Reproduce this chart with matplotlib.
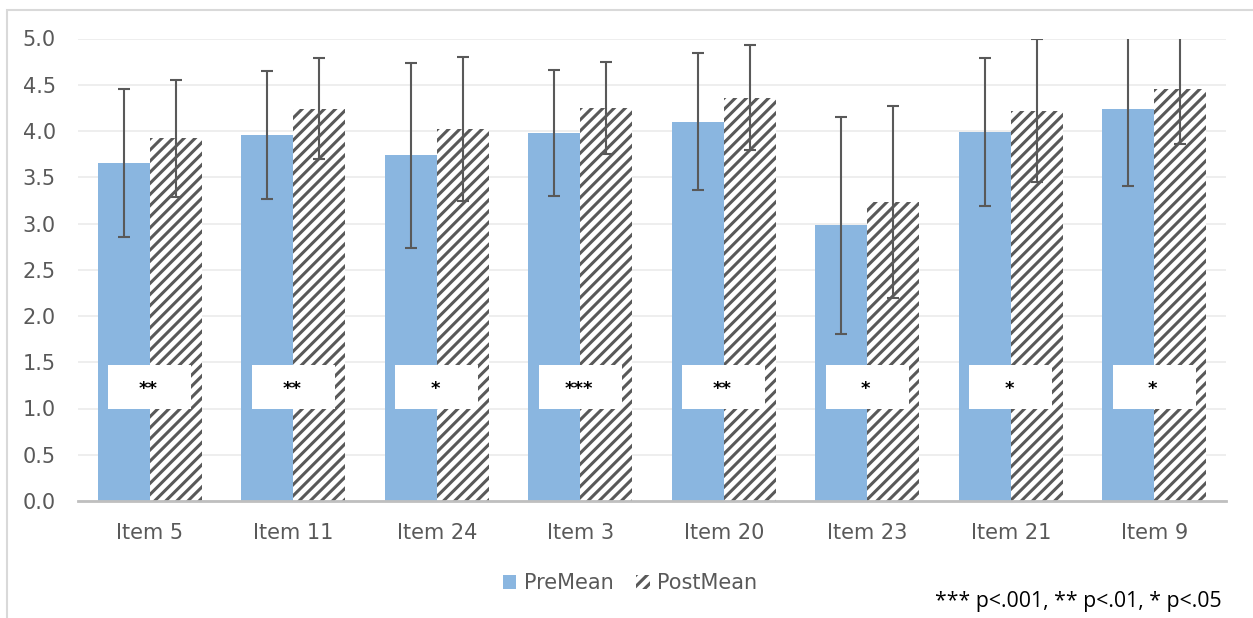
import matplotlib
matplotlib.use("Agg")
import matplotlib.pyplot as plt
from matplotlib.patches import Rectangle
import numpy as np

# Item scores before and after, with standard deviations
items = ["Item 5", "Item 11", "Item 24", "Item 3", "Item 20", "Item 23", "Item 21", "Item 9"]
pre_mean = [3.65, 3.96, 3.74, 3.98, 4.10, 2.98, 3.99, 4.24]
pre_sd = [0.80, 0.69, 1.00, 0.68, 0.74, 1.17, 0.80, 0.84]
post_mean = [3.92, 4.24, 4.02, 4.25, 4.36, 3.23, 4.22, 4.45]
post_sd = [0.63, 0.545, 0.78, 0.50, 0.57, 1.04, 0.77, 0.59]
stars = ["**", "**", "*", "***", "**", "*", "*", "*"]
note = "*** p<.001, ** p<.01, * p<.05"

W, H = 1253, 618
plt.rcParams['hatch.linewidth'] = 2.2

fig = plt.figure(figsize=(W / 100, H / 100), dpi=100)
ax = fig.add_axes([78 / W, 117 / H, (1226 - 78) / W, (501 - 38.5) / H])

x = np.arange(len(items))
bw = 0.362
grey = '#595959'
err_kw = dict(ecolor=grey, elinewidth=1.5, capsize=4.3, capthick=1.5, zorder=3)

ax.bar(x - bw / 2, pre_mean, bw, color='#8AB6E0', label='PreMean', zorder=2,
       yerr=pre_sd, error_kw=err_kw)
ax.bar(x + bw / 2, post_mean, bw, facecolor='white', hatch='///', edgecolor=grey,
       linewidth=0, label='PostMean', zorder=2, yerr=post_sd, error_kw=err_kw)

# significance boxes
for i, s in enumerate(stars):
    ax.add_patch(Rectangle((i - 0.29, 1.0), 0.58, 0.47, facecolor='white',
                           edgecolor='none', zorder=4))
    ax.text(i - 0.01, 1.21, s, ha='center', va='center', fontsize=13,
            fontweight='bold', color='black', zorder=5)

ax.set_xlim(-0.5, len(items) - 0.5)
ax.set_ylim(0, 5.0)
ax.set_yticks(np.arange(0, 5.01, 0.5))
ax.set_yticklabels([f"{v:.1f}" for v in np.arange(0, 5.01, 0.5)])
ax.set_xticks(x)
ax.set_xticklabels(items)
ax.tick_params(axis='both', length=0, labelsize=15, colors=grey)
ax.tick_params(axis='y', pad=16)
ax.tick_params(axis='x', pad=16)
ax.yaxis.grid(True, color='#EBEBEB', linewidth=1.2, zorder=0)
ax.set_axisbelow(True)
for side in ['top', 'right', 'left']:
    ax.spines[side].set_visible(False)
ax.spines['bottom'].set_color('#BFBFBF')
ax.spines['bottom'].set_linewidth(2)
ax.spines['bottom'].set_zorder(3)

leg = fig.legend(loc='center', bbox_to_anchor=(630 / W, 1 - 583 / H), ncol=2,
                 frameon=False, handlelength=0.65, handleheight=0.65,
                 handletextpad=0.35, columnspacing=1.1, fontsize=15)
for t in leg.get_texts():
    t.set_color(grey)

fig.text(1222 / W, 1 - 601 / H, note, ha='right', va='center', fontsize=15.3,
         family='Open Sans', color='black')

# outer chart frame
fig.patches.append(Rectangle((7 / W, -0.5), 2.0, 0.5 + 1 - 10 / H,
                             transform=fig.transFigure, fill=False,
                             edgecolor='#D9D9D9', linewidth=1.5))

fig.savefig('out.png', dpi=100, facecolor='white')
